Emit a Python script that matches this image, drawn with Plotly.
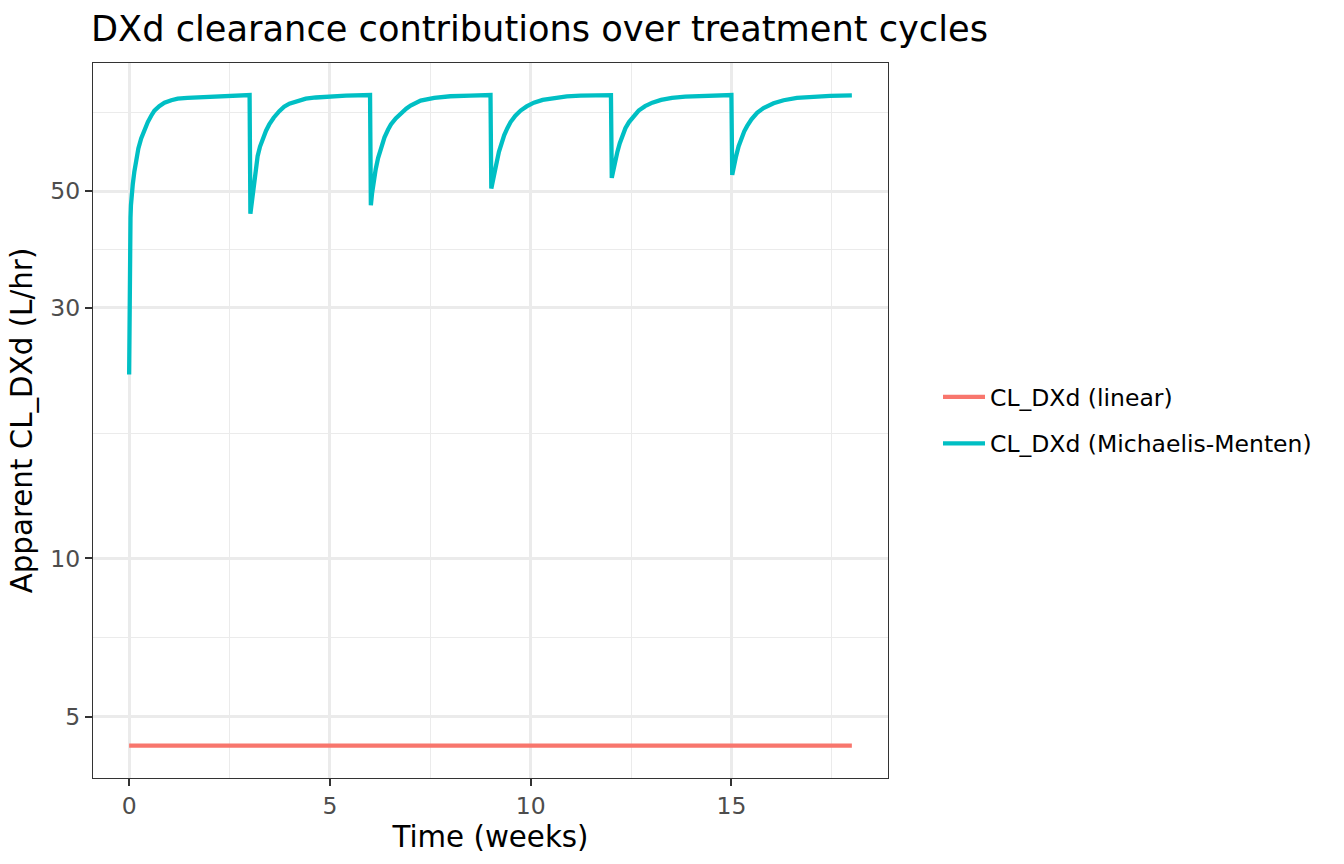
import plotly.graph_objects as go

# Linear clearance (constant)
t_lin = [0.0, 18.0]
cl_lin = [4.40, 4.40]

# Michaelis-Menten apparent clearance
t_mm = [0.0, 0.003, 0.007, 0.012, 0.018, 0.025, 0.034, 0.045, 0.06, 0.09, 0.13, 0.174, 0.23, 0.30, 0.38,
        0.465, 0.55, 0.63, 0.75, 0.88, 1.05, 1.21, 1.45, 1.71, 2.0, 2.29, 2.6, 3.0,
        3.02, 3.05, 3.077, 3.12, 3.16, 3.2, 3.26, 3.33, 3.41, 3.49, 3.6, 3.74, 3.86, 3.99,
        4.2, 4.4, 4.65, 4.98, 5.4, 6.0,
        6.02, 6.05, 6.09, 6.14, 6.2, 6.27, 6.36, 6.45, 6.52, 6.64, 6.77, 6.9, 7.01, 7.26,
        7.6, 8.0, 8.5, 9.0,
        9.02, 9.06, 9.13, 9.21, 9.27, 9.34, 9.42, 9.5, 9.62, 9.75, 9.9, 10.08, 10.3, 10.58,
        10.9, 11.24, 11.6, 12.0,
        12.02, 12.06, 12.11, 12.16, 12.22, 12.28, 12.36, 12.45, 12.56, 12.69, 12.85, 13.03,
        13.25, 13.52, 13.85, 14.19, 14.6, 15.0,
        15.02, 15.06, 15.11, 15.18, 15.25, 15.32, 15.39, 15.5, 15.64, 15.8, 16.05, 16.3,
        16.63, 17.0, 17.46, 18.0]
cl_mm = [22.4, 26.0, 30.0, 34.0, 38.0, 41.5, 44.5, 47.0, 49.0, 51.5, 54.5, 57.5, 60.3, 63.0, 65.5,
         67.7, 69.6, 71.2, 72.6, 73.7, 74.5, 75.0, 75.3, 75.5, 75.7, 75.9, 76.0, 76.2,
         45.3, 47.3, 49.1, 53.0, 56.0, 58.3, 60.8, 63.0, 65.2, 67.0, 69.0, 71.0, 72.4, 73.4,
         74.4, 75.0, 75.4, 75.8, 76.0, 76.2,
         47.0, 49.5, 52.3, 55.0, 57.8, 60.5, 63.3, 65.5, 67.0, 68.8, 70.5, 71.8, 72.8, 74.4,
         75.3, 75.8, 76.0, 76.2,
         50.6, 52.8, 55.6, 59.4, 61.7, 63.9, 65.9, 67.7, 69.6, 71.2, 72.5, 73.7, 74.6, 75.3,
         75.8, 76.0, 76.1, 76.2,
         53.0, 55.0, 57.3, 59.4, 61.7, 63.9, 65.9, 67.7, 69.5, 71.2, 72.6, 73.7,
         74.6, 75.3, 75.7, 75.9, 76.1, 76.2,
         53.7, 55.8, 58.0, 60.9, 63.2, 65.0, 66.5, 68.5, 70.5, 72.0, 73.5, 74.5,
         75.3, 75.7, 75.9, 76.1]

x_ticks = [0, 5, 10, 15]
x_minor = [2.5, 7.5, 12.5, 17.5]
y_ticks = [5, 10, 30, 50]
y_minor = [7.071, 17.32, 38.73, 70.71]

FONT = "DejaVu Sans"
fig = go.Figure()
fig.add_trace(go.Scatter(x=t_lin, y=cl_lin, mode="lines", name="CL_DXd (linear)",
                         legendgroup="a",
                         line=dict(color="#F8766D", width=4.3)))
fig.add_trace(go.Scatter(x=t_mm, y=cl_mm, mode="lines", name="CL_DXd (Michaelis-Menten)",
                         legendgroup="b",
                         line=dict(color="#00BFC4", width=4.3)))

fig.update_layout(
    width=1344, height=864,
    paper_bgcolor="white", plot_bgcolor="white",
    margin=dict(l=93, r=456, t=63, b=86),
    font=dict(family=FONT, color="#000000"),
    title=dict(text="DXd clearance contributions over treatment cycles",
               x=91/1344, xanchor="left", xref="container",
               y=1-29/864, yanchor="middle", yref="container",
               font=dict(size=35.2, family=FONT, color="#000000")),
    legend=dict(x=(938-93)/795, xref="paper", y=0.5, yanchor="middle", xanchor="left",
                font=dict(size=23.5, family=FONT, color="#000000"),
                bgcolor="rgba(0,0,0,0)", tracegroupgap=13, itemwidth=42),
    showlegend=True,
)
fig.update_xaxes(
    range=[-0.9, 18.9], tickvals=x_ticks, ticktext=[str(v) for v in x_ticks],
    showgrid=True, gridcolor="#EBEBEB", gridwidth=2.6,
    minor=dict(tickvals=x_minor, showgrid=True, gridcolor="#EBEBEB", gridwidth=1.3, ticklen=0),
    ticks="outside", ticklen=7, tickwidth=2, tickcolor="#333333",
    tickfont=dict(size=23.5, color="#4D4D4D", family=FONT),
    title=dict(text="Time (weeks)", font=dict(size=29.3, color="#000000", family=FONT), standoff=0),
    showline=True, linecolor="#333333", linewidth=1.3, mirror=True, zeroline=False,
)
fig.update_yaxes(
    type="log", range=[0.582, 1.943], tickvals=y_ticks, ticktext=[str(v) for v in y_ticks],
    showgrid=True, gridcolor="#EBEBEB", gridwidth=2.6,
    minor=dict(tickvals=y_minor, showgrid=True, gridcolor="#EBEBEB", gridwidth=1.3, ticklen=0),
    ticks="outside", ticklen=7, tickwidth=2, tickcolor="#333333",
    tickfont=dict(size=23.5, color="#4D4D4D", family=FONT),
    title=dict(text="Apparent CL_DXd (L/hr)", font=dict(size=29.3, color="#000000", family=FONT), standoff=8),
    showline=True, linecolor="#333333", linewidth=1.3, mirror=True, zeroline=False,
)

fig.write_html("out.html")
